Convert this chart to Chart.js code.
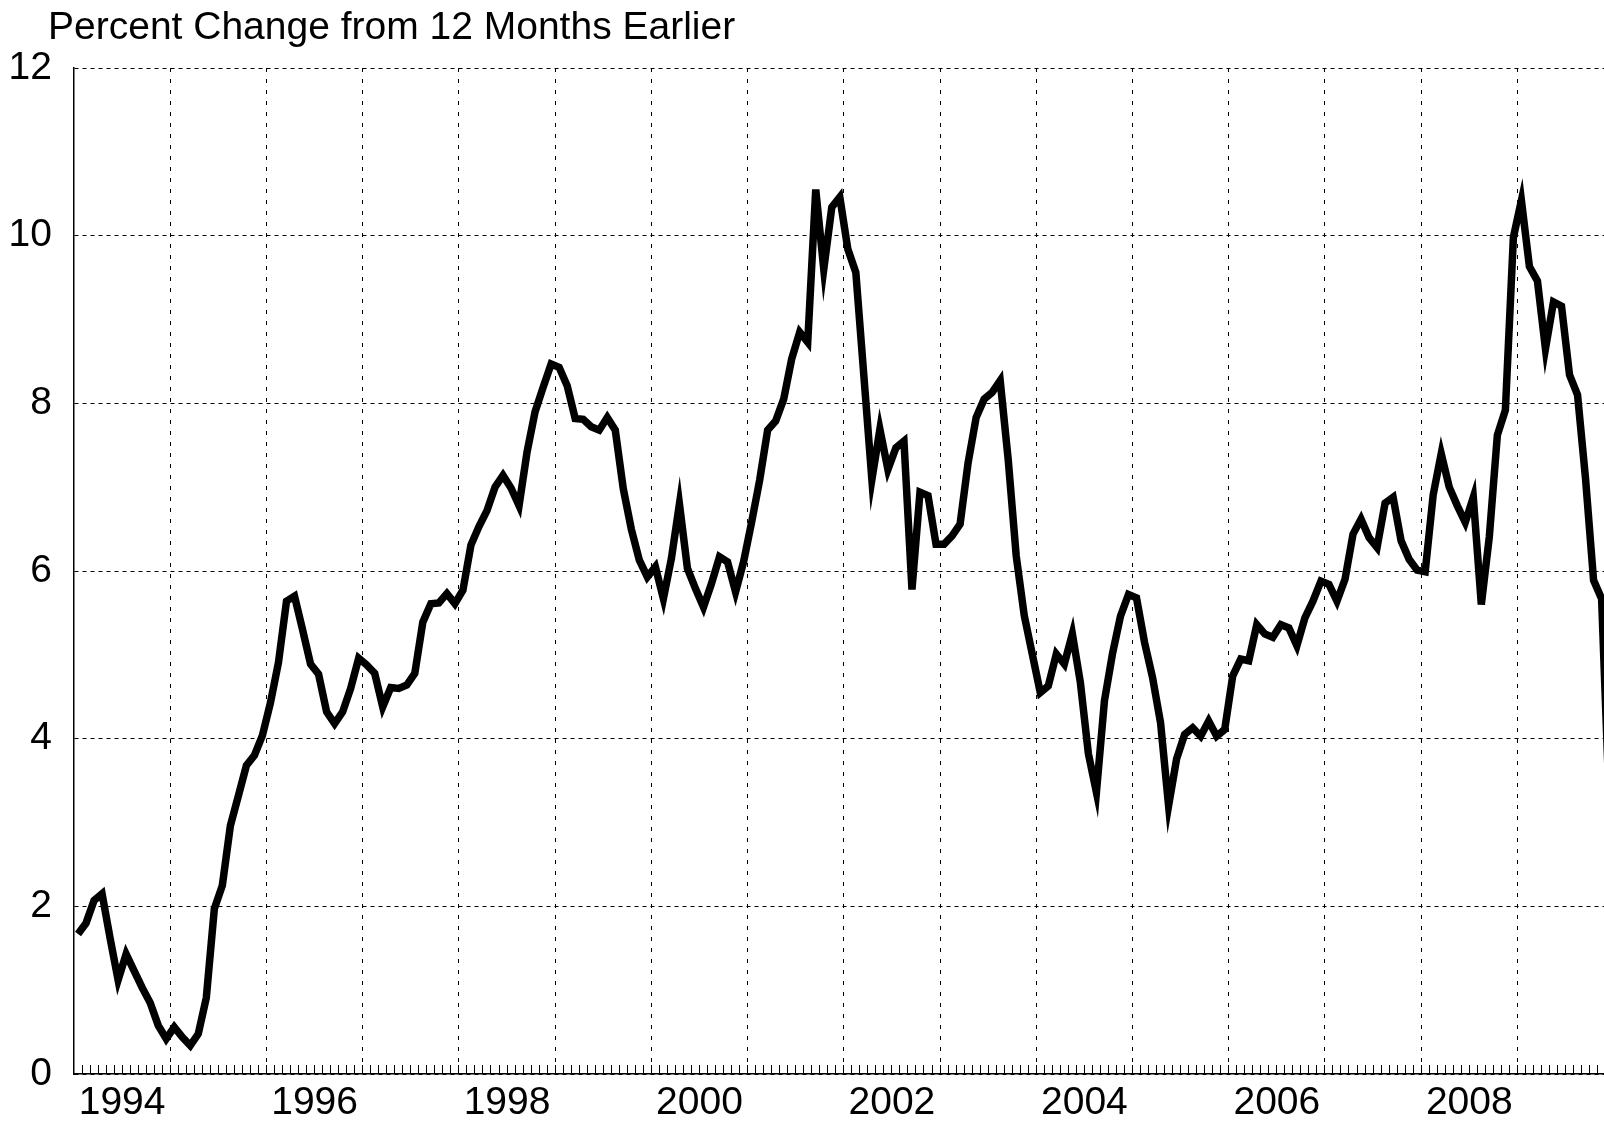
<!DOCTYPE html>
<html>
<head>
<meta charset="utf-8">
<title>Percent Change from 12 Months Earlier</title>
<script src="https://cdn.jsdelivr.net/npm/chart.js@4.4.1/dist/chart.umd.min.js"></script>
<style>
  html, body { margin: 0; padding: 0; background: #fff; }
  #wrap { width: 1604px; height: 1121px; }
</style>
</head>
<body>
<div id="wrap"><canvas id="chart" width="1604" height="1121"></canvas></div>
<script>
// monthly values, one array per year (Jan..Dec)
const titleText = "Percent Change from 12 Months Earlier";
const startYear = 1994;
const y1994 = [1.67, 1.80, 2.07, 2.15, 1.62, 1.12, 1.43, 1.23, 1.03, 0.85, 0.58, 0.42];
const y1995 = [0.56, 0.44, 0.34, 0.48, 0.91, 1.97, 2.25, 2.96, 3.32, 3.68, 3.80, 4.04];
const y1996 = [4.43, 4.91, 5.64, 5.70, 5.30, 4.89, 4.77, 4.32, 4.18, 4.32, 4.60, 4.96];
const y1997 = [4.88, 4.78, 4.38, 4.61, 4.60, 4.64, 4.78, 5.39, 5.61, 5.62, 5.73, 5.61];
const y1998 = [5.77, 6.31, 6.53, 6.72, 7.00, 7.14, 6.99, 6.78, 7.42, 7.90, 8.19, 8.47];
const y1999 = [8.43, 8.21, 7.82, 7.81, 7.72, 7.68, 7.83, 7.68, 6.98, 6.50, 6.13, 5.93];
const y2000 = [6.05, 5.67, 6.15, 6.80, 6.03, 5.79, 5.57, 5.85, 6.17, 6.11, 5.75, 6.11];
const y2001 = [6.58, 7.08, 7.68, 7.79, 8.05, 8.53, 8.85, 8.73, 10.55, 9.60, 10.34, 10.46];
const y2002 = [9.84, 9.56, 8.33, 7.09, 7.69, 7.21, 7.47, 7.55, 5.78, 6.94, 6.90, 6.32];
const y2003 = [6.32, 6.42, 6.56, 7.29, 7.83, 8.05, 8.13, 8.27, 7.33, 6.18, 5.47, 5.01];
const y2004 = [4.55, 4.63, 5.01, 4.89, 5.25, 4.67, 3.82, 3.36, 4.45, 5.01, 5.46, 5.72];
const y2005 = [5.68, 5.15, 4.73, 4.19, 3.20, 3.76, 4.05, 4.13, 4.03, 4.21, 4.03, 4.11];
const y2006 = [4.75, 4.95, 4.93, 5.36, 5.25, 5.21, 5.36, 5.32, 5.11, 5.44, 5.64, 5.88];
const y2007 = [5.84, 5.64, 5.90, 6.44, 6.62, 6.40, 6.28, 6.81, 6.88, 6.36, 6.14, 6.01];
const y2008 = [5.99, 6.91, 7.40, 7.00, 6.78, 6.58, 6.88, 5.60, 6.41, 7.62, 7.92, 9.98];
const y2009 = [10.42, 9.63, 9.46, 8.65, 9.21, 9.16, 8.34, 8.10, 7.10, 5.89, 5.67, 3.10];

const labelYears = [1994, 1996, 1998, 2000, 2002, 2004, 2006, 2008];
const yTicks = [0, 2, 4, 6, 8, 10, 12];

const pctChange = [].concat(y1994, y1995, y1996, y1997, y1998, y1999, y2000, y2001,
  y2002, y2003, y2004, y2005, y2006, y2007, y2008, y2009);

const xMin = startYear;
const xMax = 2009.9; // picture is cut off at the right edge

// each month sits in the middle of its month slot
const points = pctChange.map((v, i) => ({ x: startYear + (i + 0.5) / 12, y: v }));

const yearLines = [];
for (let yr = startYear + 1; yr < xMax; yr++) yearLines.push(yr);
const monthMarks = [];
for (let k = 1; startYear + k / 12 < xMax; k++) monthMarks.push(startYear + k / 12);

const FONT = '"Liberation Sans", Arial, Helvetica, sans-serif';
Chart.defaults.font.family = FONT;
Chart.defaults.color = '#000';

const titlePlugin = {
  id: 'topTitle',
  afterDraw(chart) {
    const ctx = chart.ctx;
    ctx.save();
    ctx.font = '39px ' + FONT;
    ctx.fillStyle = '#000';
    ctx.textBaseline = 'alphabetic';
    ctx.textAlign = 'left';
    ctx.fillText(titleText, 48, 39);
    ctx.restore();
  }
};

const chart = new Chart(document.getElementById('chart'), {
  type: 'line',
  data: {
    datasets: [{
      label: titleText,
      data: points,
      borderColor: '#000',
      borderWidth: 7.5,
      borderJoinStyle: 'miter',
      borderCapStyle: 'butt',
      pointRadius: 0,
      tension: 0,
      fill: false
    }]
  },
  options: {
    responsive: false,
    animation: false,
    devicePixelRatio: 1,
    layout: { padding: { top: 68, right: 0, bottom: 0, left: 0 } },
    plugins: {
      legend: { display: false },
      tooltip: { enabled: false },
      title: { display: false }
    },
    scales: {
      x: {
        type: 'linear',
        position: 'bottom',
        weight: 0,
        min: xMin,
        max: xMax,
        afterBuildTicks: (s) => { s.ticks = yearLines.map(v => ({ value: v })); },
        afterFit: (s) => { s.height = 0; },
        grid: { color: '#000', lineWidth: 1, drawTicks: false },
        border: { display: true, color: '#000', width: 1.5, dash: [4, 7] },
        ticks: { display: false }
      },
      xMonths: {
        type: 'linear',
        position: 'bottom',
        weight: 0,
        min: xMin,
        max: xMax,
        afterBuildTicks: (s) => { s.ticks = monthMarks.map(v => ({ value: v })); },
        afterFit: (s) => { s.height = 0; },
        grid: { drawOnChartArea: false, drawTicks: true, tickLength: -9, tickColor: '#000', tickWidth: 1 },
        border: { display: false },
        ticks: { display: false }
      },
      xLabels: {
        type: 'linear',
        position: 'bottom',
        weight: 1,
        min: xMin,
        max: xMax,
        afterBuildTicks: (s) => { s.ticks = labelYears.map(v => ({ value: v + 0.5 })); },
        afterFit: (s) => { s.height = 47; },
        grid: { display: false, drawTicks: false },
        border: { display: false },
        ticks: {
          autoSkip: false,
          maxRotation: 0,
          padding: 6,
          color: '#000',
          font: { size: 39 },
          callback: (v, i) => String(labelYears[i])
        }
      },
      y: {
        type: 'linear',
        position: 'left',
        min: 0,
        max: 12,
        afterBuildTicks: (s) => { s.ticks = yTicks.map(v => ({ value: v })); },
        afterFit: (s) => { s.width = 74; },
        grid: { color: '#000', lineWidth: 1, drawTicks: false },
        border: { display: true, color: '#000', width: 1.5, dash: [4, 4] },
        ticks: {
          padding: 22,
          color: '#000',
          font: { size: 39 },
          callback: (v) => String(v)
        }
      }
    }
  },
  plugins: [titlePlugin]
});
</script>
</body>
</html>
